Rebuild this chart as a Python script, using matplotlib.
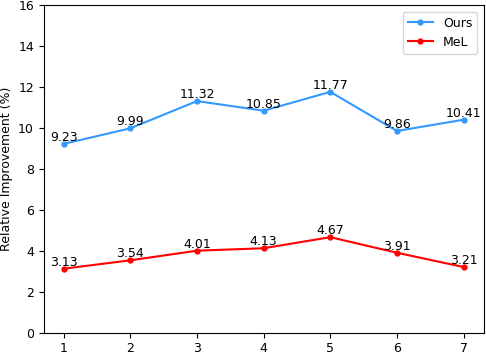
import matplotlib
matplotlib.use('Agg')
import matplotlib.pyplot as plt

x = [1, 2, 3, 4, 5, 6, 7]
ours = [9.23, 9.99, 11.32, 10.85, 11.77, 9.86, 10.41]
mel = [3.13, 3.54, 4.01, 4.13, 4.67, 3.91, 3.21]

fig, ax = plt.subplots(figsize=(4.86, 3.54), dpi=100)

ax.plot(x, ours, color='#3399ff', marker='o', markersize=3.5, label='Ours')
ax.plot(x, mel, color='red', marker='o', markersize=3.5, label='MeL')

for xi, v in zip(x, ours):
    ax.text(xi, v, f'{v:.2f}', ha='center', va='bottom', fontsize=9)
for xi, v in zip(x, mel):
    ax.text(xi, v, f'{v:.2f}', ha='center', va='bottom', fontsize=9)

ax.set_ylim(0, 16)
ax.set_xticks(x)
ax.set_ylabel('Relative Improvement (%)', fontsize=9)
ax.tick_params(labelsize=9)
ax.legend(loc='upper right', fontsize=9)

fig.subplots_adjust(left=0.09, right=0.995, top=0.985, bottom=0.06)
fig.savefig('out.png', dpi=100)
